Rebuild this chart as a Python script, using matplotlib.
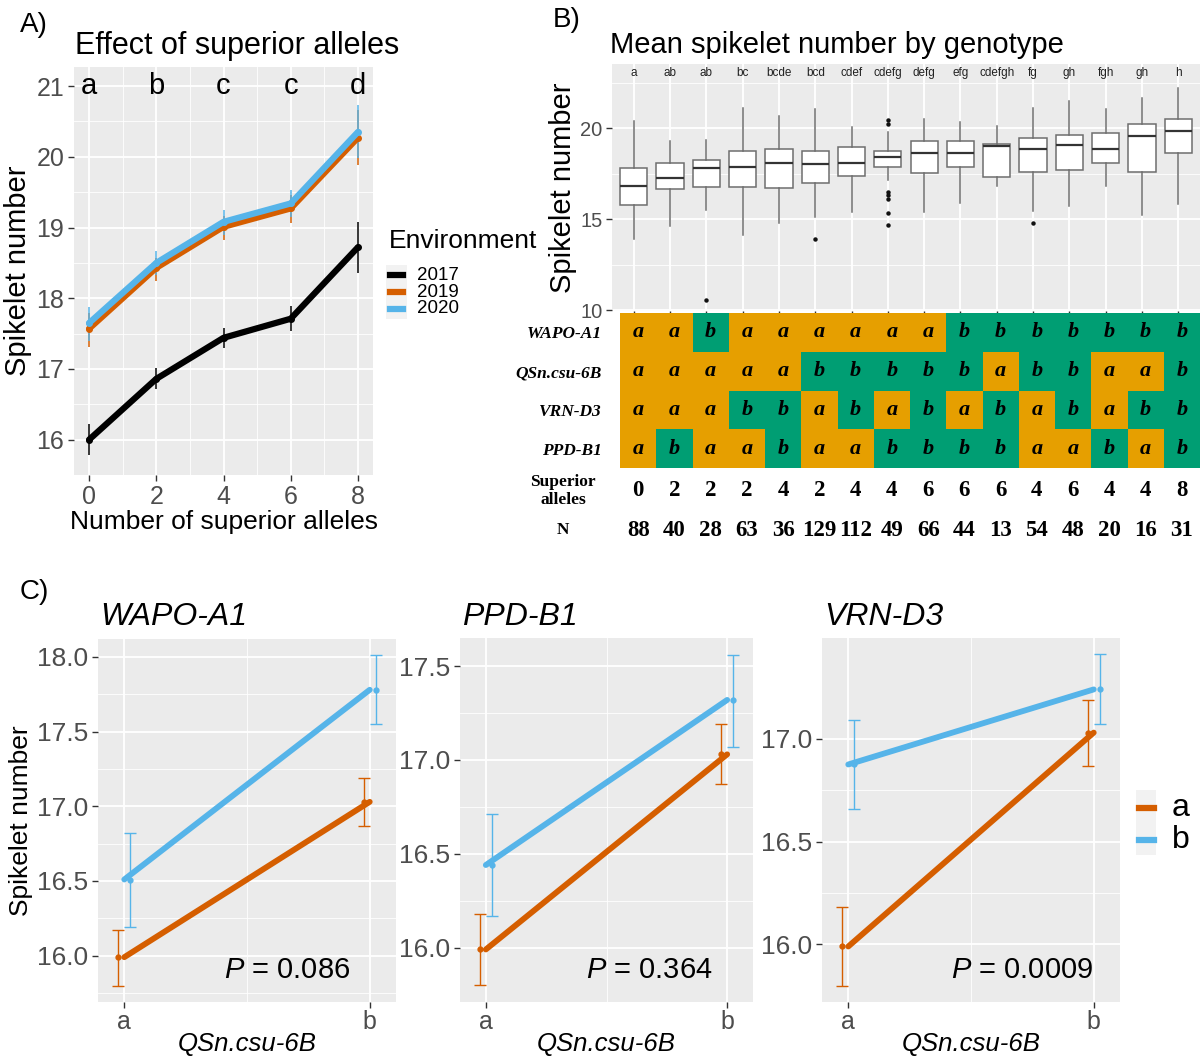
import matplotlib
matplotlib.use("Agg")
import matplotlib.pyplot as plt
import matplotlib.transforms as mtransforms
from matplotlib.colors import ListedColormap
from matplotlib.lines import Line2D
from matplotlib.patches import Rectangle
import numpy as np

plt.rcParams['font.family'] = ['Liberation Sans', 'DejaVu Sans']
plt.rcParams['mathtext.fontset'] = 'custom'
plt.rcParams['mathtext.rm'] = 'Liberation Sans'
plt.rcParams['mathtext.it'] = 'Liberation Sans:italic'

# --- A) mean spikelet number vs number of superior alleles, per year ---
alleles = [0, 2, 4, 6, 8]
years = ['2017', '2019', '2020']
mean_2017 = [16.00, 16.86, 17.44, 17.71, 18.72]
lo_2017 = [15.78, 16.71, 17.30, 17.53, 18.35]
hi_2017 = [16.22, 17.01, 17.58, 17.89, 19.08]
mean_2019 = [17.57, 18.43, 19.01, 19.27, 20.27]
lo_2019 = [17.31, 18.25, 18.83, 19.07, 19.89]
hi_2019 = [17.79, 18.57, 19.16, 19.46, 20.66]
mean_2020 = [17.65, 18.50, 19.08, 19.34, 20.35]
lo_2020 = [17.39, 18.33, 18.90, 19.15, 19.98]
hi_2020 = [17.87, 18.67, 19.25, 19.53, 20.73]
group_letters = ['a', 'b', 'c', 'c', 'd']

# --- B) spikelet number per genotype (box stats) ---
box_letters = ['a', 'ab', 'ab', 'bc', 'bcde', 'bcd', 'cdef', 'cdefg', 'defg',
               'efg', 'cdefgh', 'fg', 'gh', 'fgh', 'gh', 'h']
box_whislo = [13.91, 14.62, 15.50, 14.13, 14.81, 15.10, 15.41, 17.16, 15.41,
              15.91, 16.84, 15.47, 15.74, 16.84, 15.23, 15.82]
box_q1 = [15.78, 16.64, 16.79, 16.77, 16.70, 17.01, 17.36, 17.85, 17.52,
          17.85, 17.32, 17.61, 17.71, 18.07, 17.58, 18.62]
box_med = [16.84, 17.28, 17.82, 17.85, 18.07, 18.04, 18.06, 18.42, 18.61,
           18.62, 19.03, 18.86, 19.06, 18.84, 19.54, 19.85]
box_q3 = [17.80, 18.06, 18.24, 18.75, 18.84, 18.75, 18.94, 18.73, 19.27,
          19.28, 19.12, 19.45, 19.61, 19.74, 20.22, 20.50]
box_whishi = [20.40, 19.27, 19.36, 21.10, 20.64, 21.05, 20.04, 19.78, 20.50,
              20.35, 20.13, 21.10, 21.50, 21.06, 21.65, 22.20]
box_fliers = [[], [], [10.59], [], [], [13.91], [],
              [20.42, 20.22, 16.48, 16.33, 16.11, 15.32, 14.70],
              [], [], [], [14.81], [], [], [], []]

genes = ['WAPO-A1', 'QSn.csu-6B', 'VRN-D3', 'PPD-B1']
haplotypes = ['aabaaaaaabbbbbbb',
              'aaaaabbbbbabbaab',
              'aaabbababababab' + 'b',
              'abaabaabbbbaabab']
superior_alleles = [0, 2, 2, 2, 4, 2, 4, 4, 6, 6, 6, 4, 6, 4, 4, 8]
n_lines = [88, 40, 28, 63, 36, 129, 112, 49, 66, 44, 13, 54, 48, 20, 16, 31]

# --- C) QSn.csu-6B interaction with other loci ---
c_titles = ['WAPO-A1', 'PPD-B1', 'VRN-D3']
c_mean_a = [[15.99, 17.03], [15.99, 17.03], [15.99, 17.03]]
c_lo_a = [[15.80, 16.87], [15.80, 16.87], [15.80, 16.87]]
c_hi_a = [[16.17, 17.19], [16.18, 17.19], [16.18, 17.19]]
c_mean_b = [[16.51, 17.78], [16.44, 17.32], [16.875, 17.24]]
c_lo_b = [[16.19, 17.55], [16.17, 17.07], [16.66, 17.07]]
c_hi_b = [[16.82, 18.01], [16.71, 17.56], [17.09, 17.41]]
c_pvalues = ['0.086', '0.364', '0.0009']

BLACK, ORANGE, BLUE = '#000000', '#D55E00', '#56B4E9'
HAP_COLORS = ['#E69F00', '#009E73']
TICK_GREY = '#4D4D4D'

W, H = 1202, 1059
fig = plt.figure(figsize=(W / 100, H / 100), dpi=100)


def add_ax(left, top, right, bottom):
    return fig.add_axes([left / W, 1 - bottom / H, (right - left) / W, (bottom - top) / H])


def gg_theme(ax, labelsize):
    ax.set_facecolor('#EBEBEB')
    for s in ax.spines.values():
        s.set_visible(False)
    ax.grid(True, which='major', color='white', lw=1.3)
    ax.grid(True, which='minor', color='white', lw=0.6)
    ax.set_axisbelow(True)
    ax.tick_params(which='major', labelsize=labelsize, labelcolor=TICK_GREY,
                   color='#333333', length=4, width=1, pad=3)
    ax.tick_params(which='minor', length=0)


def ftext(x, y, s, **kw):
    fig.text(x / W, 1 - y / H, s, **kw)


# ================= A =================
axA = add_ax(74, 67, 373, 475)
gg_theme(axA, 18)
for m, lo, hi, c in [(mean_2017, lo_2017, hi_2017, BLACK),
                     (mean_2019, lo_2019, hi_2019, ORANGE),
                     (mean_2020, lo_2020, hi_2020, BLUE)]:
    axA.vlines(alleles, lo, hi, color=c, lw=1.1, zorder=3)
    axA.plot(alleles, m, color=c, lw=4.5, solid_capstyle='round',
             solid_joinstyle='round', marker='o', ms=4, zorder=4)
for x, s in zip(alleles, group_letters):
    axA.text(x, 21.0, s, ha='center', va='center', fontsize=21)
axA.set_xlim(-0.45, 8.45)
axA.set_ylim(15.53, 21.27)
axA.set_xticks(alleles)
axA.set_xticks([1, 3, 5, 7], minor=True)
axA.set_yticks(range(16, 22))
axA.set_yticks(np.arange(15.5, 21.5, 1.0), minor=True)
axA.set_xlabel('Number of superior alleles', fontsize=19, labelpad=1)
axA.set_ylabel('Spikelet number', fontsize=21, labelpad=3)

ftext(20, 25, 'A)', fontsize=20, va='center')
ftext(75, 46, 'Effect of superior alleles', fontsize=22, va='center')

# legend for A
ftext(389, 241, 'Environment', fontsize=19, va='center')
fig.add_artist(Rectangle((386 / W, 1 - 319 / H), 21 / W, 54 / H,
                         transform=fig.transFigure, color='#F2F2F2', lw=0))
for yr, c, ypx in zip(years, [BLACK, ORANGE, BLUE], [275, 292, 309]):
    fig.add_artist(Line2D([390 / W, 403 / W], [1 - ypx / H] * 2, color=c, lw=4.5,
                          transform=fig.transFigure))
    ftext(417, ypx, yr, fontsize=13.5, va='center')

# ================= B (boxes) =================
axB = add_ax(612, 64, 1200, 311)
gg_theme(axB, 14.5)
pos = np.arange(1, 17)
stats = []
for i in range(16):
    stats.append(dict(whislo=box_whislo[i], q1=box_q1[i], med=box_med[i],
                      q3=box_q3[i], whishi=box_whishi[i], fliers=box_fliers[i]))
axB.bxp(stats, positions=pos, widths=0.75, patch_artist=True, showcaps=False,
        boxprops=dict(facecolor='white', edgecolor='#6E6E6E', lw=1.1),
        medianprops=dict(color='#333333', lw=1.6),
        whiskerprops=dict(color='#6E6E6E', lw=1.1),
        flierprops=dict(marker='o', markerfacecolor='#111111', markeredgecolor='none', markersize=3.2))
for x, s in zip(pos, box_letters):
    axB.text(x, 23.0, s, ha='center', va='center', fontsize=8.5, color='#222222')
axB.set_xlim(0.4, 16.6)
axB.set_ylim(9.96, 23.52)
axB.set_xticks(pos)
axB.set_xticklabels([])
axB.set_yticks([10, 15, 20])
axB.set_yticks([12.5, 17.5, 22.5], minor=True)
axB.tick_params(axis='x', length=3)
axB.set_ylabel('Spikelet number', fontsize=21, labelpad=2)

ftext(553, 20, 'B)', fontsize=20, va='center')
ftext(610, 45, 'Mean spikelet number by genotype', fontsize=21, va='center')

# ================= B (haplotype table) =================
axH = add_ax(620, 313, 1200, 468)
grid = np.array([[1 if ch == 'b' else 0 for ch in row] for row in haplotypes])
axH.pcolormesh(np.arange(0.5, 17.5), np.arange(0.5, 5.5), grid,
               cmap=ListedColormap(HAP_COLORS), vmin=0, vmax=1)
for r, row in enumerate(haplotypes):
    for c, ch in enumerate(row):
        axH.text(c + 1, r + 1, ch, ha='center', va='center', fontsize=16,
                 family='Liberation Serif', weight='bold', style='italic')
axH.set_xlim(0.5, 16.5)
axH.set_ylim(4.5, 0.5)
axH.set_xticks([])
axH.set_yticks(range(1, 5))
axH.set_yticklabels(genes, family='Liberation Serif', weight='bold', style='italic', fontsize=12.5)
axH.tick_params(axis='y', length=0, pad=13)
for s in axH.spines.values():
    s.set_visible(False)

row_tr = mtransforms.blended_transform_factory(axH.transData, fig.transFigure)
for x, sa, n in zip(pos, superior_alleles, n_lines):
    axH.text(x, 1 - 491 / H, str(sa), transform=row_tr, ha='center', va='center',
             fontsize=16.5, family='Liberation Serif', weight='bold')
    axH.text(x, 1 - 530 / H, str(n), transform=row_tr, ha='center', va='center',
             fontsize=16.5, family='Liberation Serif', weight='bold')
ftext(563, 491, 'Superior\nalleles', ha='center', va='center', fontsize=12.5,
      family='Liberation Serif', weight='bold', linespacing=1.25)
ftext(563, 530, 'N', ha='center', va='center', fontsize=12.5,
      family='Liberation Serif', weight='bold')

# ================= C =================
c_boxes = [(98, 639, 396, 1002), (460, 638, 753, 1002), (822, 638, 1120, 1002)]
c_ylims = [(15.69, 18.12), (15.71, 17.65), (15.72, 17.49)]
c_yticks = [[16.0, 16.5, 17.0, 17.5, 18.0], [16.0, 16.5, 17.0, 17.5], [16.0, 16.5, 17.0]]
c_ptext_x = [0.847, 0.863, 0.909]
dodge = 0.025
for k in range(3):
    ax = add_ax(*c_boxes[k])
    gg_theme(ax, 19)
    xs = np.array([1, 2])
    for m, lo, hi, c, d in [(c_mean_a[k], c_lo_a[k], c_hi_a[k], ORANGE, -dodge),
                            (c_mean_b[k], c_lo_b[k], c_hi_b[k], BLUE, dodge)]:
        m = np.array(m)
        ax.plot(xs, m, color=c, lw=4.2, solid_capstyle='round', zorder=3)
        ax.errorbar(xs + d, m, yerr=[m - np.array(lo), np.array(hi) - m], fmt='o',
                    color=c, ms=3.5, elinewidth=1.0, capsize=4.5, capthick=1.0, zorder=4)
    ax.set_xlim(0.893, 2.107)
    ax.set_ylim(*c_ylims[k])
    ax.set_xticks([1, 2])
    ax.set_xticklabels(['a', 'b'])
    ax.set_xticks([1.5], minor=True)
    yt = c_yticks[k]
    ax.set_yticks(yt)
    ax.set_yticklabels([f'{v:.1f}' for v in yt])
    minor = list(np.array(yt[:-1]) + 0.25)
    if k == 0:
        minor.append(15.75)
    ax.set_yticks(minor, minor=True)
    ax.tick_params(axis='x', labelsize=18, pad=2)
    ax.set_xlabel('QSn.csu-6B', fontsize=18.5, style='italic', labelpad=-2)
    if k == 0:
        ax.set_ylabel('Spikelet number', fontsize=19, labelpad=3)
    ax.text(c_ptext_x[k], 0.087, r'$P$ = ' + c_pvalues[k], transform=ax.transAxes,
            ha='right', va='center', fontsize=21)
    ftext(c_boxes[k][0] + 2, 617, c_titles[k], fontsize=23, style='italic', va='center')

ftext(20, 592, 'C)', fontsize=20, va='center')

# legend for C
fig.add_artist(Rectangle((1136 / W, 1 - 855 / H), 20 / W, 65 / H,
                         transform=fig.transFigure, color='#F2F2F2', lw=0))
for lab, c, ypx in zip(['a', 'b'], [ORANGE, BLUE], [808, 840]):
    fig.add_artist(Line2D([1139 / W, 1154 / W], [1 - ypx / H] * 2, color=c, lw=4.5,
                          transform=fig.transFigure))
    ftext(1172, ypx, lab, fontsize=23, va='center')

fig.savefig('out.png', dpi=100)
